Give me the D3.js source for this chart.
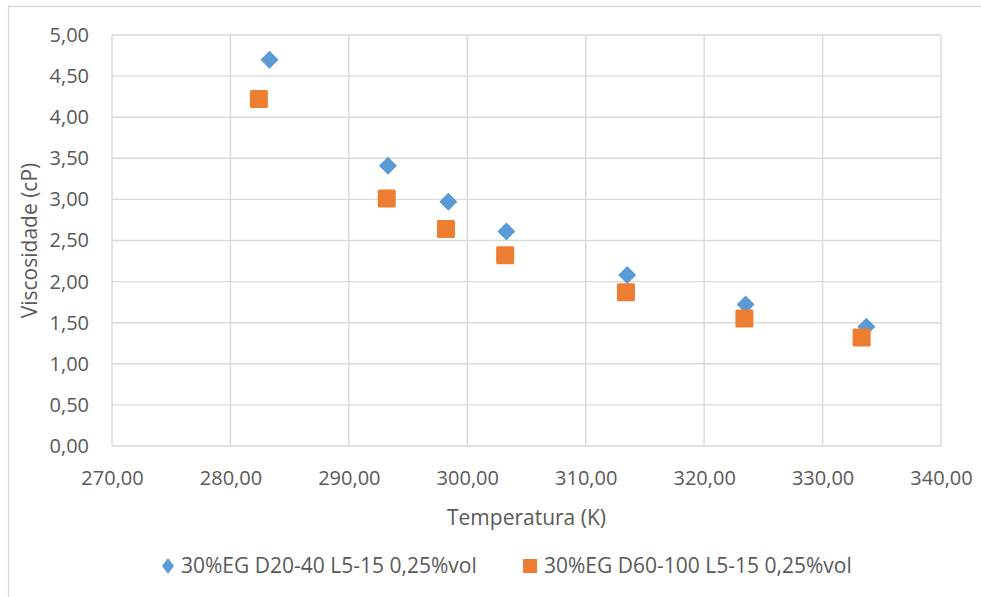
<!DOCTYPE html>
<html><head><meta charset="utf-8">
<script src="https://cdn.jsdelivr.net/npm/d3@7"></script>
<style>
html,body{margin:0;padding:0;background:#fff;}
svg{display:block;}
text{font-family:"Open Sans","Noto Sans",sans-serif;fill:#595959;}
</style></head>
<body>
<svg id="c" width="981" height="597"></svg>
<script>
const xTicks = [270, 280, 290, 300, 310, 320, 330, 340];
const yTicks = [0, 0.5, 1, 1.5, 2, 2.5, 3, 3.5, 4, 4.5, 5];
const seriesNames = ["30%EG D20-40 L5-15 0,25%vol", "30%EG D60-100 L5-15 0,25%vol"];
const tempA = [283.3, 293.3, 298.4, 303.3, 313.5, 323.5, 333.7];
const viscA = [4.70, 3.41, 2.97, 2.61, 2.08, 1.72, 1.45];
const tempB = [282.4, 293.2, 298.2, 303.2, 313.4, 323.4, 333.3];
const viscB = [4.22, 3.01, 2.64, 2.32, 1.87, 1.55, 1.32];
const colors = ["#5b9bd5", "#ed7d31"];
const xTitle = "Temperatura (K)";
const yTitle = "Viscosidade (cP)";

const svg = d3.select("#c");
const loc = d3.formatLocale({decimal: ",", thousands: ".", grouping: [3], currency: ["", ""]});
const fmt = loc.format(".2f");

const L = 112, R = 941, T = 35, B = 446;
const x = d3.scaleLinear().domain([270, 340]).range([L, R]);
const y = d3.scaleLinear().domain([0, 5]).range([B, T]);

// outer border
svg.append("path").attr("d", `M8.5,597 L8.5,6.5 L981,6.5`).attr("fill", "none").attr("stroke", "#d9d9d9").attr("stroke-width", 1.3);

// grid
const grid = svg.append("g");
grid.selectAll(".gx").data(xTicks).join("line")
  .attr("x1", d => x(d)).attr("x2", d => x(d)).attr("y1", T).attr("y2", B)
  .attr("stroke", "#d9d9d9").attr("stroke-width", 1.4);
grid.selectAll(".gy").data(yTicks).join("line")
  .attr("x1", L).attr("x2", R).attr("y1", d => y(d)).attr("y2", d => y(d))
  .attr("stroke", "#d9d9d9").attr("stroke-width", 1.4);

// axes
const xAxis = d3.axisBottom(x).tickValues(xTicks).tickFormat(fmt).tickSize(0).tickPadding(25);
const gx = svg.append("g").attr("transform", `translate(0,${B})`).call(xAxis);
gx.select(".domain").remove();
gx.selectAll("text").attr("font-size", 20).attr("fill", "#595959").style("font-family", '"Open Sans",sans-serif');

const yAxis = d3.axisLeft(y).tickValues(yTicks).tickFormat(fmt).tickSize(0).tickPadding(23);
const gy = svg.append("g").attr("transform", `translate(${L},0)`).call(yAxis);
gy.select(".domain").remove();
gy.selectAll("text").attr("font-size", 20).attr("fill", "#595959").style("font-family", '"Open Sans",sans-serif');

// titles
svg.append("text").attr("x", (L + R) / 2).attr("y", 518).attr("dy", "0.35em")
  .attr("text-anchor", "middle").attr("font-size", 21).text(xTitle);
svg.append("text").attr("transform", `translate(30,${(T + B) / 2}) rotate(-90)`).attr("dy", "0.35em")
  .attr("text-anchor", "middle").attr("font-size", 21).text(yTitle);

const diamond = "M0,-9L9,0L0,9L-9,0Z";
const dataA = tempA.map((t, i) => ({t, v: viscA[i]}));
const dataB = tempB.map((t, i) => ({t, v: viscB[i]}));

svg.append("g").selectAll("path").data(dataA).join("path")
  .attr("d", diamond).attr("transform", d => `translate(${x(d.t)},${y(d.v)})`)
  .attr("fill", colors[0]);
svg.append("g").selectAll("rect").data(dataB).join("rect")
  .attr("x", d => x(d.t) - 9).attr("y", d => y(d.v) - 9).attr("width", 18).attr("height", 18)
  .attr("rx", 1.5).attr("fill", colors[1]);

// legend
const lg = svg.append("g");
lg.append("path").attr("d", "M0,-8L6,0L0,8L-6,0Z").attr("transform", "translate(168,566)").attr("fill", colors[0]);
lg.append("text").attr("x", 181).attr("y", 566).attr("dy", "0.35em").attr("font-size", 21).text(seriesNames[0]);
lg.append("rect").attr("x", 523).attr("y", 559).attr("width", 14).attr("height", 14).attr("fill", colors[1]);
lg.append("text").attr("x", 544).attr("y", 566).attr("dy", "0.35em").attr("font-size", 21).text(seriesNames[1]);
</script>
</body></html>
